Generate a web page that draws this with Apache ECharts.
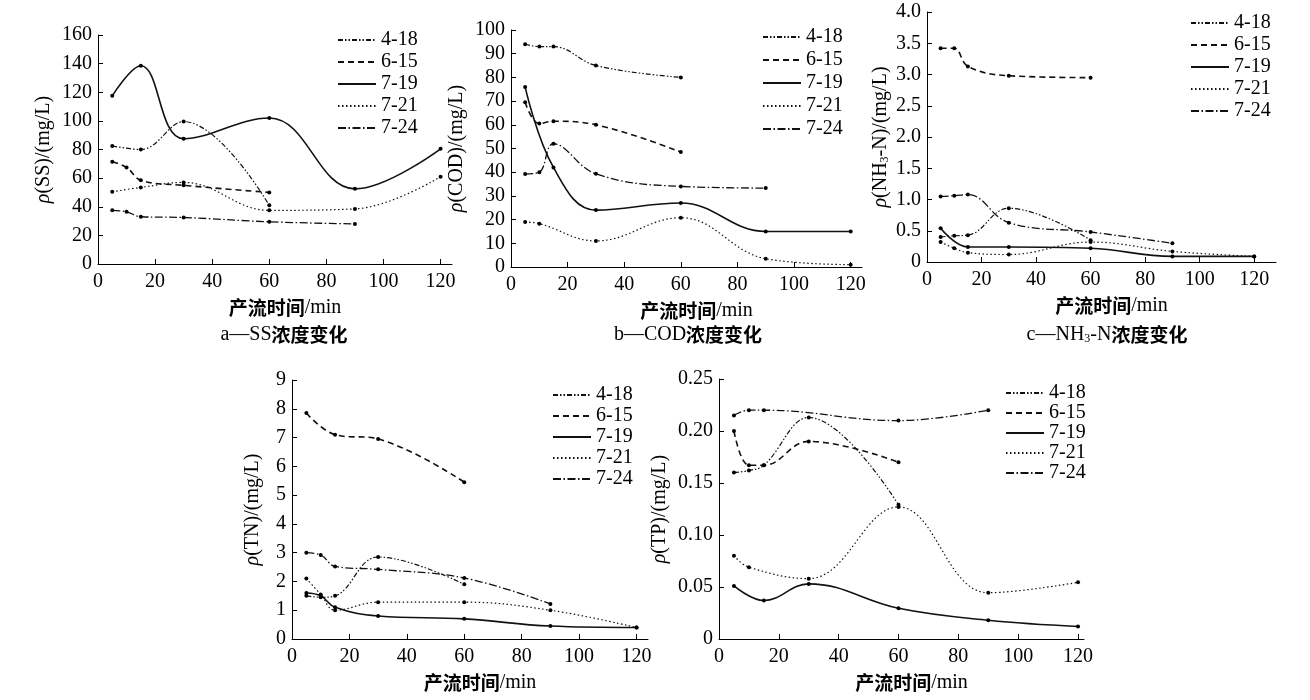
<!DOCTYPE html>
<html><head><meta charset="utf-8">
<script src="https://cdn.jsdelivr.net/npm/echarts@6/dist/echarts.min.js"></script>
<style>html,body{margin:0;padding:0;background:#fff}#c{width:1310px;height:700px}</style>
</head><body><div id="c"></div>
<script>
// ---- data ----
const seriesNames = ['4-18', '6-15', '7-19', '7-21', '7-24'];
const xTicks = [0, 20, 40, 60, 80, 100, 120];

// a — SS (mg/L)
const SS_418 = [[5, 82.5], [15, 80], [30, 99.5], [60, 41]];
const SS_615 = [[5, 71.5], [10, 67.5], [15, 58.5], [30, 55], [60, 50]];
const SS_719 = [[5, 117.5], [15, 138.5], [30, 87.5], [60, 102], [90, 52.5], [120, 80.5]];
const SS_721 = [[5, 50.5], [15, 53.5], [30, 57], [60, 37.5], [90, 38.5], [120, 61]];
const SS_724 = [[5, 37.5], [10, 36.5], [15, 33], [30, 32.5], [60, 29.5], [90, 28]];

// b — COD (mg/L)
const COD_418 = [[5, 94], [10, 93], [15, 93], [30, 85], [60, 80]];
const COD_615 = [[5, 69.5], [10, 60.5], [15, 61.5], [30, 60], [60, 48.5]];
const COD_719 = [[5, 76], [15, 42], [30, 24], [60, 27], [90, 15], [120, 15]];
const COD_721 = [[5, 19], [10, 18.3], [30, 11], [60, 20.8], [90, 3.5], [120, 1]];
const COD_724 = [[5, 39.2], [10, 40], [15, 52], [30, 39.3], [60, 34], [90, 33.3]];

// c — NH3-N (mg/L)
const NH_418 = [[5, 0.40], [10, 0.42], [15, 0.43], [30, 0.86], [60, 0.35]];
const NH_615 = [[5, 3.42], [10, 3.42], [15, 3.13], [30, 2.98], [60, 2.95]];
const NH_719 = [[5, 0.54], [15, 0.24], [30, 0.24], [60, 0.22], [90, 0.09], [120, 0.09]];
const NH_721 = [[5, 0.32], [10, 0.22], [15, 0.15], [30, 0.12], [60, 0.32], [90, 0.17], [120, 0.09]];
const NH_724 = [[5, 1.05], [10, 1.06], [15, 1.08], [30, 0.63], [60, 0.48], [90, 0.30]];

// d — TN (mg/L)
const TN_418 = [[5, 1.5], [10, 1.45], [15, 1.5], [30, 2.85], [60, 1.9]];
const TN_615 = [[5, 7.85], [15, 7.1], [30, 6.95], [60, 5.45]];
const TN_719 = [[5, 1.6], [10, 1.5], [15, 1.1], [30, 0.8], [60, 0.7], [90, 0.45], [120, 0.4]];
const TN_721 = [[5, 2.1], [10, 1.55], [15, 1.0], [30, 1.28], [60, 1.28], [90, 1.0], [120, 0.4]];
const TN_724 = [[5, 3.0], [10, 2.92], [15, 2.52], [30, 2.42], [60, 2.12], [90, 1.22]];

// e — TP (mg/L)
const TP_418 = [[5, 0.16], [10, 0.162], [15, 0.167], [30, 0.213], [60, 0.129]];
const TP_615 = [[5, 0.2], [10, 0.167], [15, 0.167], [30, 0.19], [60, 0.17]];
const TP_719 = [[5, 0.051], [15, 0.037], [30, 0.053], [60, 0.0295], [90, 0.018], [120, 0.012]];
const TP_721 = [[5, 0.08], [10, 0.069], [30, 0.058], [60, 0.127], [90, 0.0445], [120, 0.0545]];
const TP_724 = [[5, 0.215], [10, 0.22], [15, 0.22], [60, 0.21], [90, 0.22]];

// ---- styling / layout ----
const SERIF = '"Liberation Serif","Times New Roman","Noto Sans CJK SC",serif';
const CJK = '"Noto Sans CJK SC",sans-serif';
const lineStyles = {
  '4-18': { width: 1.2, type: [5, 2, 1.5, 2, 1.5, 2] },
  '6-15': { width: 1.6, type: [6, 4] },
  '7-19': { width: 1.6, type: 'solid' },
  '7-21': { width: 1.2, type: [1.5, 2.5] },
  '7-24': { width: 1.3, type: [8, 2.5, 1.5, 2.5] }
};

const panels = [
  { data: [SS_418, SS_615, SS_719, SS_721, SS_724], grid: { left: 98, top: 35, width: 354, height: 229 },
    xMax: 124, yMax: 160, yInt: 20, dec: 0, yName: '{i|ρ}{n|(SS)/(mg/L)}', yGap: 44,
    legend: { left: 332, top: 25, gap: 2 }, cap: '{e|a—SS}{z|浓度变化}', capX: 284, capY: 335 },
  { data: [COD_418, COD_615, COD_719, COD_721, COD_724], grid: { left: 511, top: 30, width: 351, height: 237 },
    xMax: 124, yMax: 100, yInt: 10, dec: 0, yName: '{i|ρ}{n|(COD)/(mg/L)}', yGap: 44,
    legend: { left: 757, top: 22, gap: 3 }, cap: '{e|b—COD}{z|浓度变化}', capX: 688, capY: 335 },
  { data: [NH_418, NH_615, NH_719, NH_721, NH_724], grid: { left: 927, top: 12, width: 349, height: 250 },
    xMax: 128, yMax: 4, yInt: 0.5, dec: 1, yName: '{i|ρ}{n|(NH}{s|3}{n|-N)/(mg/L)}', yGap: 36,
    legend: { left: 1185, top: 8, gap: 2 }, cap: '{e|c—NH}{s|3}{e|-N}{z|浓度变化}', capX: 1107, capY: 335 },
  { data: [TN_418, TN_615, TN_719, TN_721, TN_724], grid: { left: 292, top: 380, width: 356, height: 259 },
    xMax: 124, yMax: 9, yInt: 1, dec: 0, yName: '{i|ρ}{n|(TN)/(mg/L)}', yGap: 29,
    legend: { left: 547, top: 380, gap: 1 }, cap: null },
  { data: [TP_418, TP_615, TP_719, TP_721, TP_724], grid: { left: 719, top: 379, width: 365, height: 260 },
    xMax: 122, yMax: 0.25, yInt: 0.05, dec: 2, yName: '{i|ρ}{n|(TP)/(mg/L)}', yGap: 49,
    legend: { left: 1000, top: 378, gap: 0 }, cap: null }
];

const nameRich = {
  i: { fontFamily: SERIF, fontStyle: 'italic', fontSize: 20, color: '#000' },
  n: { fontFamily: SERIF, fontSize: 20, color: '#000' },
  s: { fontFamily: SERIF, fontSize: 12, color: '#000', verticalAlign: 'bottom', padding: [8, 0, 0, 0] }
};

const grid = [], xAxis = [], yAxis = [], series = [], legend = [], graphic = [];
panels.forEach((p, gi) => {
  grid.push(Object.assign({ containLabel: false }, p.grid));
  xAxis.push({
    type: 'value', gridIndex: gi, min: 0, max: p.xMax,
    axisLine: { show: true, onZero: false, lineStyle: { color: '#000', width: 1 } },
    axisTick: { show: true, inside: true, length: 5, customValues: xTicks, lineStyle: { color: '#000' } },
    axisLabel: { customValues: xTicks, color: '#000', fontFamily: SERIF, fontSize: 20, margin: 8 },
    splitLine: { show: false },
    name: '{z|产流时间}{e|/min}', nameLocation: 'middle', nameGap: 34,
    nameTextStyle: {
      padding: [0, 0, 0, 20],
      rich: { z: { fontFamily: CJK, fontWeight: 'bold', fontSize: 19, color: '#000' },
              e: { fontFamily: SERIF, fontSize: 20, color: '#000' } }
    }
  });
  yAxis.push({
    type: 'value', gridIndex: gi, min: 0, max: p.yMax, interval: p.yInt,
    axisLine: { show: true, onZero: false, lineStyle: { color: '#000', width: 1 } },
    axisTick: { show: true, inside: true, length: 5, lineStyle: { color: '#000' } },
    axisLabel: { color: '#000', fontFamily: SERIF, fontSize: 20, margin: 6,
      formatter: v => (v === 0 ? '0' : v.toFixed(p.dec)) },
    splitLine: { show: false },
    name: p.yName, nameLocation: 'middle', nameGap: p.yGap,
    nameTextStyle: { rich: nameRich }
  });
  p.data.forEach((d, si) => {
    const nm = seriesNames[si];
    series.push({
      type: 'line', name: nm, data: d, xAxisIndex: gi, yAxisIndex: gi,
      smooth: 0.4, symbol: 'circle', symbolSize: 4, showSymbol: true,
      itemStyle: { color: '#000' },
      lineStyle: Object.assign({ color: '#111' }, lineStyles[nm]),
      animation: false, silent: true
    });
  });
  legend.push({
    orient: 'vertical', left: p.legend.left, top: p.legend.top,
    itemWidth: 38, itemHeight: 12, itemGap: p.legend.gap, selectedMode: false,
    itemStyle: { opacity: 0 },
    textStyle: { fontFamily: SERIF, fontSize: 20, lineHeight: 19, color: '#000' },
    data: seriesNames
  });
  if (p.cap) {
    graphic.push({
      type: 'text', x: p.capX, y: p.capY,
      style: {
        text: p.cap, textAlign: 'center', textVerticalAlign: 'middle',
        rich: {
          e: { fontFamily: SERIF, fontSize: 20, fill: '#000' },
          z: { fontFamily: CJK, fontWeight: 'bold', fontSize: 19, fill: '#000' },
          s: { fontFamily: SERIF, fontSize: 12, fill: '#000', verticalAlign: 'bottom', padding: [8, 0, 0, 0] }
        }
      }
    });
  }
});

const chart = echarts.init(document.getElementById('c'), null, { renderer: 'canvas' });
chart.setOption({ backgroundColor: '#fff', animation: false, grid, xAxis, yAxis, series, legend, graphic });
</script>
</body></html>
